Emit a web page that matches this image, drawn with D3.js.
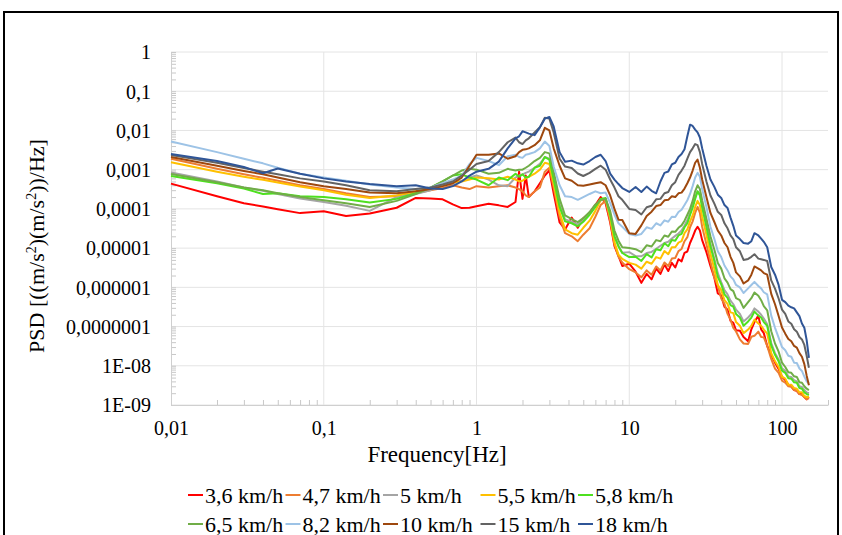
<!DOCTYPE html>
<html><head><meta charset="utf-8">
<script src="https://cdn.jsdelivr.net/npm/d3@7"></script>
<style>body{margin:0;background:#fff}svg{display:block}text{font-family:"Liberation Serif","Times New Roman",serif;fill:#000}</style>
</head><body><svg id="c" width="842" height="535"></svg>
<script>
const freq = [0.01,0.02,0.03,0.04,0.05, 0.07,0.1,0.14,0.2,0.3, 0.4,0.5,0.6,0.7,0.8, 0.9,1.0,1.2,1.4,1.6,
 1.8,1.9,2.0,2.1,2.2, 2.4,2.6,2.8,3.0,3.2, 3.5,3.8,4.2,4.6,5.0, 5.5,6.0,6.5,7.0,7.5, 8.0,8.5,9.0,10,11,
 12,13,14,15,16, 17,18,19,20,21, 22,23,24,25,26, 27,28,29,30,32, 34,36,38,40,42, 44,46,48,50,53,
 56,60,63,66,70, 73,76,80,85,90, 95,100,105,110,115, 120,125,130,135,140, 145,150];

const psd36 = [4.4e-4,2.1e-4,1.4e-4,1.15e-4,9.8e-5, 7.8e-5,8.7e-5,6.6e-5,7.6e-5,1.07e-4, 1.9e-4,1.85e-4,1.75e-4,1.3e-4,1.05e-4, 1.07e-4,1.17e-4,1.35e-4,1.23e-4,1.12e-4,
 1.5e-4,8.9e-4,1.8e-4,7.1e-4,2.0e-4, 2.8e-4,4.5e-4,7.1e-4,9.5e-4,2.5e-4, 4.5e-5,3.0e-5,6.0e-5,3.3e-5,5.8e-5, 7.9e-5,1.26e-4,2.0e-4,1.4e-4,4.5e-5, 1.12e-5,6.3e-6,3.5e-6,4.0e-6,2.5e-6,
 1.3e-6,2.2e-6,1.6e-6,3.0e-6,2.2e-6, 3.8e-6,2.6e-6,4.2e-6,3.2e-6,5.2e-6, 4.6e-6,7.6e-6,8.2e-6,1.35e-5,1.9e-5, 2.8e-5,3.5e-5,2.8e-5,1.6e-5,7.9e-6, 3.5e-6,1.8e-6,7.0e-7,6.2e-7,3.2e-7, 2.7e-7,1.4e-7,1.25e-7,8.0e-8,7.8e-8,
 5.4e-8,4.2e-8,8.5e-8,1.3e-7,1.9e-7, 8.5e-8,6.8e-8,3.2e-8,1.9e-8,1.2e-8, 8.3e-9,5.2e-9,4.3e-9,3.3e-9,3.0e-9, 2.4e-9,2.3e-9,1.9e-9,1.9e-9,1.6e-9, 1.4e-9,1.6e-9];

const psd47 = [1.9e-3,1.05e-3,7.6e-4,6.2e-4,5.2e-4, 4.0e-4,3.2e-4,2.5e-4,2.0e-4,2.1e-4, 2.5e-4,3.0e-4,3.4e-4,4.0e-4,3.5e-4, 3.2e-4,3.8e-4,3.5e-4,3.8e-4,4.0e-4,
 3.5e-4,3.2e-4,2.8e-4,2.2e-4,2.0e-4, 2.8e-4,3.5e-4,8.9e-4,1.12e-3,3.5e-4, 6.3e-5,2.4e-5,2.0e-5,1.5e-5,2.2e-5, 3.2e-5,6.3e-5,1.26e-4,1.6e-4,5.0e-5, 1.26e-5,6.0e-6,4.3e-6,2.9e-6,2.4e-6,
 1.8e-6,2.7e-6,2.1e-6,3.4e-6,2.7e-6, 4.3e-6,3.5e-6,5.4e-6,5.6e-6,8.4e-6, 9.5e-6,1.5e-5,1.9e-5,3.4e-5,4.8e-5, 7.9e-5,1.12e-4,7.9e-5,3.5e-5,1.26e-5, 4.5e-6,1.8e-6,1.1e-6,5.2e-7,3.8e-7, 2.1e-7,1.5e-7,9.2e-8,7.5e-8,4.7e-8,
 3.7e-8,3.6e-8,5.5e-8,5.8e-8,7.4e-8, 5.4e-8,5.3e-8,3.2e-8,1.5e-8,8.5e-9, 6.6e-9,4.2e-9,3.7e-9,3.0e-9,2.9e-9, 2.4e-9,2.3e-9,1.9e-9,1.8e-9,1.6e-9, 1.4e-9,1.5e-9];

const psd5 = [8.5e-4,5.0e-4,3.5e-4,2.9e-4,2.4e-4, 1.85e-4,1.5e-4,1.2e-4,8.9e-5,2.0e-4, 2.4e-4,3.0e-4,4.0e-4,4.5e-4,5.2e-4, 6.3e-4,7.1e-4,5.6e-4,4.0e-4,3.8e-4,
 6.3e-4,7.1e-4,7.6e-4,8.3e-4,8.9e-4, 1.12e-3,1.4e-3,2.1e-3,1.9e-3,6.3e-4, 1.26e-4,5.4e-5,4.7e-5,4.0e-5,5.2e-5, 7.6e-5,1.2e-4,1.75e-4,1.8e-4,7.1e-5, 2.0e-5,1.15e-5,7.6e-6,7.9e-6,6.3e-6,
 6.2e-6,7.5e-6,8.0e-6,9.6e-6,1.15e-5, 1.35e-5,1.45e-5,1.75e-5,2.05e-5,2.35e-5, 2.8e-5,3.8e-5,5.2e-5,7.9e-5,1.26e-4, 2.0e-4,2.8e-4,2.4e-4,1.26e-4,4.0e-5, 1.3e-5,5.4e-6,2.3e-6,1.35e-6,8.5e-7, 6.6e-7,4.6e-7,3.7e-7,2.7e-7,2.1e-7,
 1.35e-7,1.7e-7,2.1e-7,2.9e-7,2.4e-7, 2.0e-7,1.6e-7,1.15e-7,3.8e-8,2.1e-8, 1.45e-8,8.6e-9,7.4e-9,5.3e-9,5.2e-9, 4.3e-9,4.0e-9,3.0e-9,2.9e-9,2.4e-9, 2.1e-9,2.0e-9];

const psd55 = [1.55e-3,8.9e-4,6.6e-4,5.5e-4,4.7e-4, 3.7e-4,3.0e-4,2.3e-4,1.9e-4,2.2e-4, 2.8e-4,3.3e-4,4.0e-4,4.8e-4,5.0e-4, 5.6e-4,6.3e-4,6.0e-4,5.6e-4,6.6e-4,
 5.6e-4,5.0e-4,5.2e-4,6.0e-4,6.6e-4, 7.9e-4,1.0e-3,1.5e-3,1.4e-3,4.5e-4, 7.9e-5,3.0e-5,2.4e-5,2.2e-5,3.3e-5, 5.0e-5,8.9e-5,1.66e-4,1.8e-4,6.3e-5, 1.4e-5,6.8e-6,5.3e-6,4.2e-6,3.8e-6,
 3.0e-6,4.5e-6,4.0e-6,5.9e-6,5.4e-6, 8.4e-6,7.0e-6,1.05e-5,1.05e-5,1.38e-5, 1.5e-5,2.4e-5,3.0e-5,4.8e-5,6.8e-5, 1.12e-4,1.6e-4,1.26e-4,6.3e-5,2.2e-5, 7.1e-6,3.0e-6,1.15e-6,8.5e-7,4.7e-7, 3.8e-7,2.3e-7,2.2e-7,1.3e-7,1.05e-7,
 6.8e-8,8.4e-8,1.05e-7,1.5e-7,1.2e-7, 1.05e-7,8.4e-8,6.6e-8,2.1e-8,1.3e-8, 9.3e-9,5.3e-9,4.7e-9,3.3e-9,3.3e-9, 2.7e-9,2.6e-9,2.1e-9,2.1e-9,1.7e-9, 1.6e-9,1.6e-9];

const psd58 = [6.9e-4,4.5e-4,3.3e-4,2.4e-4,2.5e-4, 2.1e-4,2.0e-4,1.75e-4,1.45e-4,1.8e-4, 2.5e-4,3.5e-4,5.0e-4,7.1e-4,7.6e-4, 6.3e-4,5.6e-4,4.0e-4,6.3e-4,5.4e-4,
 7.9e-4,6.6e-4,7.6e-4,6.3e-4,6.6e-4, 1.12e-3,1.26e-3,2.1e-3,1.8e-3,5.6e-4, 1.12e-4,4.8e-5,4.3e-5,3.6e-5,4.7e-5, 7.1e-5,1.12e-4,1.8e-4,1.9e-4,7.1e-5, 2.0e-5,1.1e-5,7.5e-6,5.9e-6,6.0e-6,
 4.7e-6,7.0e-6,5.8e-6,9.4e-6,8.8e-6, 1.33e-5,1.12e-5,1.6e-5,1.55e-5,2.1e-5, 2.3e-5,3.4e-5,4.3e-5,7.0e-5,1.07e-4, 1.8e-4,2.8e-4,2.2e-4,1.12e-4,3.5e-5, 1.12e-5,4.8e-6,1.85e-6,1.2e-6,6.6e-7, 5.4e-7,3.5e-7,3.2e-7,2.1e-7,1.7e-7,
 1.05e-7,1.35e-7,1.7e-7,2.4e-7,1.9e-7, 1.7e-7,1.3e-7,1.05e-7,3.3e-8,1.9e-8, 1.3e-8,7.5e-9,6.6e-9,4.8e-9,4.7e-9, 3.8e-9,3.7e-9,2.7e-9,2.6e-9,2.1e-9, 1.9e-9,1.8e-9];

const psd65 = [7.8e-4,4.8e-4,3.5e-4,3.0e-4,2.5e-4, 2.0e-4,1.66e-4,1.4e-4,1.12e-4,1.6e-4, 2.4e-4,3.5e-4,5.0e-4,7.1e-4,9.5e-4, 1.05e-3,1.0e-3,7.9e-4,8.3e-4,1.05e-3,
 9.5e-4,1.0e-3,1.0e-3,1.12e-3,1.26e-3, 1.66e-3,2.0e-3,2.8e-3,2.6e-3,8.9e-4, 1.8e-4,6.8e-5,5.5e-5,4.6e-5,5.8e-5, 8.3e-5,1.3e-4,1.66e-4,1.8e-4,8.9e-5, 2.8e-5,1.55e-5,1.05e-5,1.0e-5,9.4e-6,
 7.9e-6,1.18e-5,1.1e-5,1.6e-5,1.5e-5, 2.1e-5,1.95e-5,2.65e-5,2.6e-5,3.3e-5, 3.8e-5,5.0e-5,7.1e-5,1.0e-4,1.6e-4, 2.8e-4,4.0e-4,3.2e-4,1.66e-4,5.6e-5, 2.0e-5,9.4e-6,4.2e-6,3.0e-6,1.7e-6, 1.32e-6,9.0e-7,8.0e-7,5.3e-7,4.7e-7,
 3.0e-7,4.2e-7,5.3e-7,7.4e-7,6.1e-7, 4.7e-7,3.3e-7,2.6e-7,7.6e-8,3.7e-8, 2.3e-8,1.2e-8,9.3e-9,6.8e-9,6.6e-9, 5.4e-9,5.2e-9,3.8e-9,3.7e-9,3.0e-9, 2.6e-9,2.4e-9];

const psd82 = [5.2e-3,2.8e-3,1.9e-3,1.45e-3,1.12e-3, 7.9e-4,6.3e-4,5.2e-4,4.2e-4,3.5e-4, 3.2e-4,3.5e-4,4.5e-4,5.6e-4,7.1e-4, 1.4e-3,2.0e-3,1.66e-3,1.3e-3,2.2e-3,
 2.4e-3,2.1e-3,2.0e-3,2.4e-3,2.5e-3, 2.8e-3,3.5e-3,5.2e-3,4.0e-3,1.2e-3, 4.0e-4,2.1e-4,2.0e-4,1.7e-4,2.0e-4, 2.4e-4,2.8e-4,2.5e-4,2.6e-4,1.4e-4, 7.1e-5,4.3e-5,3.5e-5,2.3e-5,2.1e-5,
 2.3e-5,3.4e-5,3.1e-5,4.3e-5,3.8e-5, 5.1e-5,4.7e-5,6.3e-5,6.2e-5,8.3e-5, 9.5e-5,1.26e-4,1.66e-4,2.4e-4,3.8e-4, 6.3e-4,8.3e-4,6.6e-4,3.2e-4,1.12e-4, 3.5e-5,1.75e-5,8.3e-6,5.9e-6,3.6e-6, 2.7e-6,1.9e-6,1.6e-6,1.15e-6,1.0e-6,
 7.2e-7,9.4e-7,1.15e-6,1.38e-6,1.08e-6, 9.4e-7,7.5e-7,6.6e-7,1.9e-7,9.3e-8, 5.2e-8,3.0e-8,2.5e-8,1.8e-8,1.7e-8, 1.2e-8,1.18e-8,8.5e-9,7.4e-9,5.3e-9, 4.0e-9,3.5e-9];

const psd10 = [2.1e-3,1.26e-3,9.3e-4,7.6e-4,6.3e-4, 4.8e-4,3.8e-4,3.2e-4,2.6e-4,2.5e-4, 2.8e-4,3.2e-4,3.8e-4,4.5e-4,6.3e-4, 1.26e-3,2.4e-3,2.4e-3,2.6e-3,1.9e-3,
 2.2e-3,2.8e-3,3.2e-3,3.3e-3,3.5e-3, 4.2e-3,5.6e-3,1.17e-2,1.0e-2,3.5e-3, 1.26e-3,6.0e-4,5.2e-4,4.0e-4,3.9e-4, 4.2e-4,4.5e-4,4.8e-4,4.0e-4,2.2e-4, 1.0e-4,5.3e-5,5.2e-5,2.4e-5,2.3e-5,
 3.8e-5,6.6e-5,8.5e-5,1.18e-4,1.25e-4, 1.65e-4,1.7e-4,2.1e-4,2.0e-4,2.5e-4, 2.6e-4,3.3e-4,4.5e-4,6.3e-4,9.5e-4, 1.5e-3,1.8e-3,1.12e-3,5.6e-4,2.0e-4, 7.9e-5,4.7e-5,2.8e-5,2.1e-5,1.35e-5, 1.05e-5,6.0e-6,4.2e-6,2.4e-6,1.9e-6,
 1.25e-6,1.5e-6,2.1e-6,3.4e-6,3.0e-6, 2.7e-6,2.3e-6,2.1e-6,6.8e-7,3.7e-7, 1.85e-7,9.5e-8,6.6e-8,4.8e-8,4.2e-8, 3.2e-8,2.9e-8,2.1e-8,1.7e-8,1.1e-8, 5.6e-9,3.2e-9];

const psd15 = [2.35e-3,1.5e-3,1.1e-3,8.9e-4,7.6e-4, 6.0e-4,5.0e-4,4.0e-4,3.0e-4,2.8e-4, 3.2e-4,3.5e-4,4.2e-4,5.0e-4,7.1e-4, 1.0e-3,1.4e-3,1.66e-3,2.8e-3,5.0e-3,
 6.6e-3,5.0e-3,4.5e-3,5.6e-3,6.3e-3, 8.9e-3,1.2e-2,2.1e-2,2.0e-2,8.9e-3, 1.9e-3,1.2e-3,1.1e-3,8.0e-4,6.9e-4, 8.3e-4,1.05e-3,1.26e-3,1.0e-3,5.6e-4, 3.5e-4,2.1e-4,1.7e-4,1.0e-4,9.4e-5,
 7.2e-5,1.1e-4,1.2e-4,1.75e-4,1.8e-4, 2.5e-4,2.7e-4,4.0e-4,4.8e-4,7.4e-4, 9.5e-4,1.26e-3,1.9e-3,2.8e-3,3.5e-3, 4.5e-3,4.2e-3,2.8e-3,1.4e-3,5.0e-4, 2.2e-4,1.38e-4,8.4e-5,7.0e-5,4.3e-5, 3.2e-5,2.1e-5,1.7e-5,1.05e-5,8.3e-6,
 5.0e-6,5.3e-6,6.0e-6,7.0e-6,5.4e-6, 5.2e-6,5.0e-6,4.7e-6,1.5e-6,9.3e-7, 5.2e-7,2.7e-7,2.1e-7,1.35e-7,1.18e-7, 8.5e-8,7.4e-8,5.4e-8,4.7e-8,3.4e-8, 1.8e-8,8.9e-9];

const psd18 = [2.5e-3,1.66e-3,1.17e-3,8.1e-4,1.07e-3, 7.9e-4,6.0e-4,5.0e-4,4.3e-4,3.8e-4, 4.0e-4,3.3e-4,3.2e-4,3.8e-4,5.0e-4, 7.1e-4,8.9e-4,1.05e-3,1.6e-3,3.5e-3,
 6.3e-3,7.1e-3,9.5e-3,8.9e-3,8.3e-3, 7.6e-3,1.2e-2,2.0e-2,2.2e-2,1.26e-2, 2.8e-3,1.6e-3,1.7e-3,1.45e-3,1.35e-3, 1.66e-3,2.1e-3,2.4e-3,1.66e-3,7.9e-4, 5.6e-4,4.3e-4,3.4e-4,2.7e-4,3.6e-4,
 2.7e-4,3.7e-4,2.9e-4,2.5e-4,5.0e-4, 8.3e-4,9.0e-4,1.36e-3,1.5e-3,2.1e-3, 2.5e-3,3.3e-3,7.1e-3,1.4e-2,1.3e-2, 1.05e-2,8.9e-3,6.6e-3,3.5e-3,1.26e-3, 5.6e-4,3.7e-4,2.3e-4,1.9e-4,1.25e-4, 1.05e-4,6.0e-5,3.7e-5,2.1e-5,1.7e-5,
 1.35e-5,1.3e-5,1.5e-5,2.4e-5,2.1e-5, 1.75e-5,1.45e-5,1.05e-5,3.3e-6,2.1e-6, 1.15e-6,4.8e-7,4.2e-7,3.4e-7,3.1e-7, 2.9e-7,2.3e-7,1.85e-7,1.2e-7,9.3e-8, 4.5e-8,1.6e-8];

const seriesNames = ["3,6 km/h","4,7 km/h","5 km/h","5,5 km/h","5,8 km/h","6,5 km/h","8,2 km/h","10 km/h","15 km/h","18 km/h"];
const seriesColors = ["#FF0000","#ED7D31","#A5A5A5","#FFC000","#4EE01F","#70AD47","#9DC3E6","#9E480E","#636363","#2F5597"];
const seriesValues = [psd36,psd47,psd5,psd55,psd58,psd65,psd82,psd10,psd15,psd18];

const yTickValues = [1,0.1,0.01,0.001,1e-4,1e-5,1e-6,1e-7,1e-8,1e-9];
const yTickLabels = ["1","0,1","0,01","0,001","0,0001","0,00001","0,000001","0,0000001","1E-08","1E-09"];
const xTickValues = [0.01,0.1,1,10,100];
const xTickLabels = ["0,01","0,1","1","10","100"];

const FONT = '"Liberation Serif","Times New Roman",serif';
const svg = d3.select("#c");
const L = 171, R = 828, T = 52, B = 405;
const x = d3.scaleLog().domain([0.01, 200]).range([L, R]);
const y = d3.scaleLog().domain([1e-9, 1]).range([B, T]);

svg.append("rect").attr("x",4).attr("y",12).attr("width",834).attr("height",560)
  .attr("fill","none").attr("stroke","#000").attr("stroke-width",2);

// gridlines
svg.append("g").selectAll("line").data(yTickValues).join("line")
  .attr("x1",L).attr("x2",R).attr("y1",d=>y(d)).attr("y2",d=>y(d))
  .attr("stroke","#e4e4e4").attr("stroke-width",1);
svg.append("g").selectAll("line").data(xTickValues.slice(1)).join("line")
  .attr("x1",d=>x(d)).attr("x2",d=>x(d)).attr("y1",T).attr("y2",B)
  .attr("stroke","#e4e4e4").attr("stroke-width",1);

// minor ticks
const minorX = [], minorY = [];
[0.01,0.1,1,10,100].forEach(d=>{for(let k=2;k<=9;k++){ if(d*k<=200) minorX.push(d*k);} });
[1e-9,1e-8,1e-7,1e-6,1e-5,1e-4,1e-3,1e-2,1e-1].forEach(d=>{for(let k=2;k<=9;k++) minorY.push(d*k);});

const gxm = svg.append("g").attr("transform",`translate(0,${B})`)
  .call(d3.axisBottom(x).tickValues(minorX).tickSize(-5).tickSizeOuter(0).tickFormat(""));
gxm.select(".domain").remove();
gxm.selectAll("line").attr("stroke","#c8c8c8");
const gym = svg.append("g").attr("transform",`translate(${L},0)`)
  .call(d3.axisLeft(y).tickValues(minorY.concat(yTickValues)).tickSize(-5).tickSizeOuter(0).tickFormat(""));
gym.select(".domain").remove();
gym.selectAll("line").attr("stroke","#c8c8c8");

// main axes
const gx = svg.append("g").attr("transform",`translate(0,${B})`)
  .call(d3.axisBottom(x).tickValues(xTickValues).tickFormat((d,i)=>xTickLabels[i]).tickSize(0).tickSizeOuter(0));
gx.attr("font-family",FONT);
gx.select(".domain").attr("stroke","#cfcfcf");
gx.selectAll("text").attr("y",30).attr("dy",0)
  .style("font-family",FONT).style("font-size","20px").attr("fill","#000");

const gy = svg.append("g").attr("transform",`translate(${L},0)`)
  .call(d3.axisLeft(y).tickValues(yTickValues).tickFormat((d,i)=>yTickLabels[i]).tickSize(0).tickSizeOuter(0));
gy.attr("font-family",FONT);
gy.select(".domain").attr("stroke","#cfcfcf");
gy.selectAll("text").attr("x",-20).attr("dy","0.34em")
  .style("font-family",FONT).style("font-size","20px").attr("fill","#000");

// series
const line = d3.line().x((d,i)=>x(freq[i])).y(d=>y(d));
seriesValues.forEach((vals,si)=>{
  svg.append("path").datum(vals).attr("d",line)
    .attr("fill","none").attr("stroke",seriesColors[si]).attr("stroke-width",2)
    .attr("stroke-linejoin","round");
});

// axis titles
svg.append("text").attr("x",437).attr("y",462).attr("text-anchor","middle")
  .style("font-family",FONT).style("font-size","23px").text("Frequency[Hz]");
const yt = svg.append("text").attr("transform","translate(44,246) rotate(-90)")
  .attr("text-anchor","middle").style("font-family",FONT).style("font-size","22px");
yt.append("tspan").text("PSD [((m/s");
yt.append("tspan").attr("dy",-8).style("font-size","14px").text("2");
yt.append("tspan").attr("dy",8).text(")(m/s");
yt.append("tspan").attr("dy",-8).style("font-size","14px").text("2");
yt.append("tspan").attr("dy",8).text("))/Hz]");

// legend
const leg = svg.append("g");
seriesNames.forEach((name,i)=>{
  const col = i % 5, row = Math.floor(i/5);
  const lx = 188 + col*97.5, ly = 495 + row*29;
  leg.append("line").attr("x1",lx).attr("x2",lx+15).attr("y1",ly).attr("y2",ly)
    .attr("stroke",seriesColors[i]).attr("stroke-width",2);
  leg.append("text").attr("x",lx+17).attr("y",ly+7.5).style("font-family",FONT).style("font-size","22px").text(name);
});
</script></body></html>
